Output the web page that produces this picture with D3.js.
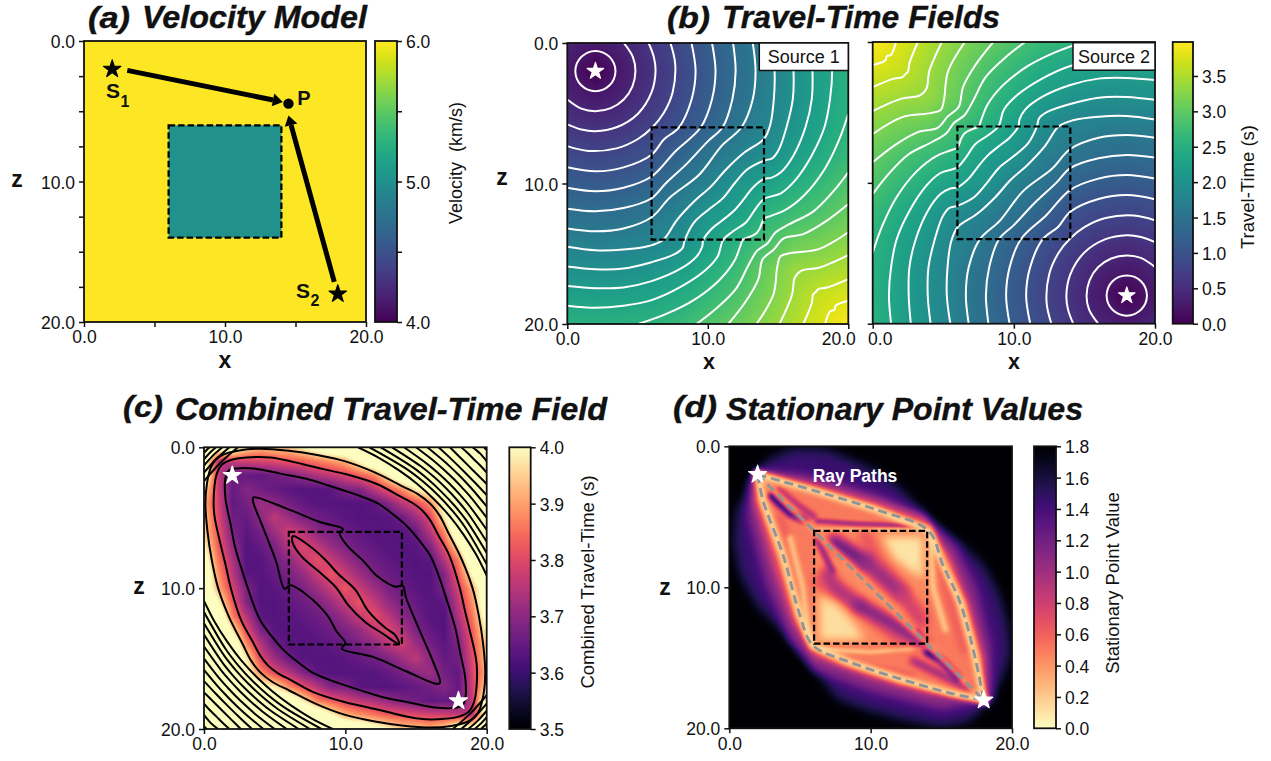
<!DOCTYPE html>
<html><head><meta charset="utf-8">
<script src="https://cdn.jsdelivr.net/npm/d3@7"></script>
<style>html,body{margin:0;padding:0;background:#fff}svg{display:block}text{font-family:"Liberation Sans",Arial,sans-serif;fill:#111}</style>
</head><body><svg id="c" width="1271" height="761"></svg>
<script>
// ---------- DATA ----------
const axisMajor=[0,10,20];
const source1=[2,2], source2=[18,18], pointP=[14.5,4.46];
const velocityOutside=6, velocityBox=5;
const ray1Arrow=[[3.07,2.09],[14.1,4.34]], ray2Arrow=[[17.75,17.15],[14.5,5.3]];
const travelTime1=[
[.40,.28,.40,.63,.89,1.16,1.43,1.71,1.98,2.26,2.54],
[.28,.00,.28,.56,.84,1.12,1.40,1.68,1.96,2.25,2.53],
[.40,.28,.40,.63,.89,1.16,1.43,1.71,1.98,2.26,2.54],
[.63,.56,.63,.79,1.01,1.26,1.56,1.78,2.05,2.31,2.58],
[.89,.84,.89,1.01,1.27,1.54,1.74,1.95,2.20,2.43,2.68],
[1.16,1.12,1.16,1.26,1.54,1.75,2.08,2.24,2.45,2.65,2.88],
[1.43,1.40,1.43,1.56,1.74,2.08,2.22,2.53,2.70,2.85,3.05],
[1.71,1.68,1.71,1.78,1.95,2.24,2.53,2.76,3.04,3.13,3.26],
[1.98,1.96,1.98,2.05,2.20,2.45,2.70,3.04,3.34,3.40,3.50],
[2.26,2.25,2.26,2.31,2.43,2.65,2.85,3.13,3.40,3.65,3.76],
[2.54,2.53,2.54,2.58,2.68,2.88,3.05,3.26,3.50,3.76,3.98]];
const travelTime2=[
[3.98,3.76,3.50,3.26,3.05,2.88,2.68,2.58,2.54,2.53,2.54],
[3.76,3.65,3.40,3.13,2.85,2.65,2.43,2.31,2.26,2.25,2.26],
[3.50,3.40,3.34,3.04,2.70,2.45,2.20,2.05,1.98,1.96,1.98],
[3.26,3.13,3.04,2.76,2.53,2.24,1.95,1.78,1.71,1.68,1.71],
[3.05,2.85,2.70,2.53,2.22,2.08,1.74,1.56,1.43,1.40,1.43],
[2.88,2.65,2.45,2.24,2.08,1.75,1.54,1.26,1.16,1.12,1.16],
[2.68,2.43,2.20,1.95,1.74,1.54,1.27,1.01,.89,.84,.89],
[2.58,2.31,2.05,1.78,1.56,1.26,1.01,.79,.63,.56,.63],
[2.54,2.26,1.98,1.71,1.43,1.16,.89,.63,.40,.28,.40],
[2.53,2.25,1.96,1.68,1.40,1.12,.84,.56,.28,.00,.28],
[2.54,2.26,1.98,1.71,1.43,1.16,.89,.63,.40,.28,.40]];
const timeContours=[
[[.99,.99],[.68,1.45],[.57,2],[.68,2.55],[.99,3.01],[1.45,3.32],[2,3.43],[2.55,3.32],[3.01,3.01]],
[[0,4.02],[1,4.67],[2,4.85],[3.1,4.63],[4.02,4.02]],
[[0,5.79],[1,6.16],[2,6.28],[3.5,6],[5.03,5.03]],
[[0,7.34],[1.5,7.68],[3.5,7.5],[5,6.85],[6.03,6.03]],
[[0,8.84],[2,9.13],[4,8.85],[6,7.95],[6.87,6.87]],
[[0,10.3],[2,10.55],[4,10.3],[6,9.5],[7.7,7.7]],
[[0,11.8],[2,11.98],[4,11.75],[6,11.05],[7,10],[8.55,8.55]],
[[0,13.2],[2,13.4],[4,13.2],[6,12.4],[7.3,11],[9.38,9.38]],
[[0,14.5],[2,14.75],[4,14.7],[5.8,14.45],[6.83,14],[7.8,12.6],[9,11.3],[10.22,10.22]],
[[0,15.9],[2,16.1],[4,16.05],[6,15.6],[7.6,15.05],[8.2,14.6],[8.37,14],[9,12.8],[10,11.9],[11.06,11.06]],
[[0,17.3],[2,17.45],[4,17.4],[6,16.95],[8,16.1],[9.2,15.2],[9.6,14.5],[9.68,14],[10.3,13.2],[11,12.65],[11.9,11.9]],
[[0,18.7],[2,18.85],[4,18.7],[6,18.3],[8,17.4],[9.8,16.2],[10.7,15.2],[11.1,14],[11.8,13.4],[12.74,12.74]],
[[5.05,20],[7,19.3],[9,18.3],[10.8,16.9],[11.9,15.5],[12.3,14.5],[12.5,14],[13.1,13.75],[13.5,13.5]],
[[9.2,20],[10.6,18.9],[12,17.5],[12.9,15.8],[13.5,14.8],[14.25,14.25]],
[[11.46,20],[12.7,18.4],[13.6,16.8],[13.9,15.4],[14.7,14.7]],
[[13.47,20],[14.67,17.9],[14.95,15.9],[15.18,15.18]],
[[15.1,20],[16,17.9],[16.15,16.8],[16.4,16.4]],
[[16.8,20],[17.4,18.5],[17.5,17.9],[17.7,17.7]],
[[18.35,20],[18.7,19.1],[19,19]]];
const combinedByOffset=[
[3.82,3.82,3.81,3.80,3.78,3.76,3.72,3.69,3.66,3.75,4.2],
[3.77,3.77,3.76,3.75,3.72,3.70,3.67,3.65,3.77,4.05],
[3.72,3.72,3.71,3.70,3.68,3.67,3.65,3.645,3.78,4.08],
[3.68,3.68,3.675,3.665,3.65,3.64,3.665,3.79,3.97],
[3.66,3.66,3.655,3.65,3.635,3.63,3.68,3.80,3.92],
[3.645,3.645,3.64,3.635,3.63,3.71,3.82,3.95],
[3.635,3.635,3.63,3.63,3.64,3.74,3.83,3.95],
[3.63,3.63,3.63,3.68,3.76,3.86,4.0],
[3.635,3.635,3.64,3.685,3.79,3.89,4.05],
[3.66,3.685,3.75,3.83,3.92,4.1],
[3.72,3.75,3.81,3.87,4.0,4.1],
[3.80,3.88,3.98,4.1,4.2],
[3.88,3.98,4.1,4.2,4.3],
[4.03,4.15,4.2,4.3],
[4.1,4.2,4.3,4.3],
[4.3,4.3,4.3],
[4.3,4.3,4.3],
[4.3,4.3],
[4.3,4.3],
[4.3],
[4.3]];
const lensContours=[
[[1.7,1.7],[2.3,1.5],[3.64,1.52],[5.4,1.87],[7.17,2.22],[8.8,2.71],[10,3.1],[11.13,3.49],[12.32,4],[13.39,4.77],[14.38,5.62]],
[[1.25,1.25],[1.9,.9],[3,.72],[4.7,.72],[7,1.2],[8.44,1.55],[10,1.9],[12.31,2.64],[13.75,3.42],[14.81,3.99],[15.48,4.52]],
[[.85,.85],[1.4,.5],[2.5,.22],[4,.1],[6,.25],[8,.55],[10,1],[12,1.75],[14,2.75],[15.13,3.32],[16,4]]];
const stripeContours=[
[[10.9,0],[12.4,.76],[13.8,1.64],[15.11,2.62],[16.29,3.71]],
[[11.7,0],[14.32,1.53],[15.5,2.43],[16.58,3.42]],
[[12.5,0],[14.81,1.44],[15.85,2.27],[16.82,3.18]],
[[13.3,0],[15.32,1.33],[16.24,2.08],[17.11,2.89]],
[[14.15,0],[15.85,1.23],[16.64,1.9],[17.39,2.61]],
[[15,0],[16.41,1.09],[17.07,1.68],[17.71,2.29]],
[[15.8,0],[16.95,.96],[17.5,1.46],[18.03,1.97]],
[[16.6,0],[17.48,.82],[18.34,1.66]],
[[17.4,0],[18.05,.65],[18.7,1.3]],
[[18.2,0],[18.67,.42],[19.12,.88]],
[[19,0],[19.28,.22],[19.55,.45]],
[[19.8,0],[19.85,.04],[19.9,.1]]];
const cornerStripes=[[.4,.19],[.85,.4],[1.3,.61],[1.8,.85],[2.4,1.13]];
const innerRidge=[[3.5,3.55],[5.85,4.35],[8.2,5.3],[9.85,5.8],[9.6,6.1],[10.1,6.95],[11.3,8.1],[12.2,9.1],[13.6,9.9],[14.05,9.8],[14.3,10.7],[15.3,13.1],[16.2,15.2],[16.7,16.7],[16.5,16.8],[14.3,15.9],[12,14.9],[9.75,14.3],[10,13.9],[9.4,13.1],[8.7,11.9],[7.3,10.5],[6.1,9.8],[5.7,10.05],[5.1,8.1],[4.2,5.75],[3.45,3.75]];
const innerCore=[[6.3,6.3],[7.4,6.95],[8.6,8],[9.5,9],[10.7,10.1],[11.6,11.6],[12.8,12.8],[13.5,13.3],[13.8,13.95],[12.6,13.2],[11.4,12.4],[10.2,11.2],[9.3,9.9],[8.1,8.8],[6.9,7.75],[6.25,6.7]];
const rayUpper=[[2,2],[6.2,3.2],[10.4,4.5],[14.1,6],[15.1,8.4],[16.3,11],[17.3,14.6],[18,18]];
const rayLower=[[2,2],[2.4,3.9],[3.8,7.7],[5,12],[5.9,14.1],[8.5,15.3],[12.1,16.5],[15.6,17.5],[18,18]];
const rayDirect=[[2,2],[18,18]];
const valueBands=[
{v:1.45,blur:6,poly:[[4.5,.15],[6.9,.25],[9.5,1.3],[11.6,2.5],[13.3,4.2],[14.4,5.6],[16.3,6.8],[18,8.4],[19.1,10.5],[19.7,12.7],[19.9,14.6],[19.4,16.2],[18.2,18.3],[17,19.5],[15.1,19.95],[12.8,19.5],[10,18.8],[7.6,17.9],[6.4,16.2],[5.5,14.6],[3.8,13.1],[1.9,11.25],[.75,9.1],[.3,6.8],[.5,4.6],[1.5,2.7],[2.6,1]]},
{v:1.1,blur:4,poly:[[2,1.7],[5,1.9],[8,2.6],[11,3.6],[13.8,4.9],[16,7],[17.5,10],[18.5,14],[18.6,18],[15,18.7],[10,17.4],[6,15.9],[4.3,13.8],[2.5,9.6],[1.3,5],[1.5,2.5]]},
{v:.75,blur:3,poly:[[2,1.8],[6,2.6],[10,3.7],[13.8,5],[15.8,8],[17,11],[18.1,15],[18.2,18],[14,17.6],[10,16.5],[6,15],[4.4,12.5],[3,8.5],[1.7,4],[1.7,2.4]]},
{v:.42,blur:2,poly:[[2,1.9],[6,3],[10,4.2],[14.2,5.6],[15.6,8.4],[16.8,11.2],[17.8,15],[18,18],[12,16.8],[8,15.5],[5.7,14.4],[4.6,12],[3.4,8],[2,3.8]]},
{v:.5,blur:2,poly:[[2,2],[6.2,3.2],[10.4,4.5],[14.1,6],[15.1,8.4],[16.3,11],[17.3,14.6],[18,18],[15.6,17.5],[12.1,16.5],[8.5,15.3],[5.9,14.1],[5,12],[3.8,7.7],[2.4,3.9]]},
{v:.45,blur:1,poly:[[6,6],[14,6],[14,14],[6,14]]}];
const valueStreaks=[
{v:1.6,w:7,blur:2,line:[[3,3.5],[4.2,4.7],[5.3,5.2]]},
{v:.95,w:6,blur:2,line:[[3.5,3.1],[5,4.3],[6,5]]},
{v:1.05,w:4,blur:1.5,line:[[6.2,5.3],[9,5.5],[12,5.6],[14,5.9]]},
{v:.25,w:3,blur:1,line:[[6,5.9],[14,5.9]]},
{v:.62,w:8,blur:3,line:[[3.6,5],[4.6,8],[5.3,11]]},
{v:.2,w:6,blur:2,line:[[4.3,6.5],[5.2,10],[5.6,13.5]]},
{v:.2,w:6,blur:2,line:[[14.3,6.5],[14.4,10],[15.3,13]]},
{v:.62,w:8,blur:3,line:[[14.9,8],[15.6,11],[16.6,14.5]]},
{v:.6,w:6,blur:2,line:[[7,14.8],[10,15.6],[13,16.2]]},
{v:.22,w:4,blur:1.5,line:[[6.5,14.4],[10,14.6],[13.5,14.3]]},
{v:1.15,w:6,blur:3,line:[[13,15.2],[15,16.2],[17,17.2]]},
{v:1.6,w:7,blur:2,line:[[14,14.6],[15,15.2],[16.2,16.4]]},
{v:.65,w:14,blur:4,line:[[9.6,6.4],[10.4,8],[12,10],[13.6,12]]},
{v:.65,w:14,blur:4,line:[[6.3,9.6],[8,10.4],[10,12],[12,13.7]]},
{v:1.25,w:14,blur:4,line:[[7.4,6.8],[8.3,7.35],[9.6,8.2]]},
{v:1.05,w:14,blur:5,line:[[9.6,8.2],[12.1,10.4]]},
{v:.8,w:10,blur:4,line:[[12.1,10.4],[13.7,12.6]]},
{v:.95,w:12,blur:4,line:[[6.9,9],[7.6,10.1],[9.2,11.3]]},
{v:1.15,w:12,blur:4,line:[[9.2,11.3],[11.4,12.5],[13.6,13.9]]},
{v:1.15,w:5,blur:2,line:[[6.2,6.6],[6.7,7.6],[7.3,8.9]]},
{v:1.3,w:4,blur:1.5,line:[[13.3,13.1],[13.9,14]]}];
const palePatches=[
{v:.1,blur:4,poly:[[10.8,6.4],[13.7,6.4],[13.7,9.4],[12.6,8.7],[11.6,7.9]]},
{v:.12,blur:4,poly:[[6.4,10.6],[7.6,11.2],[8.7,12.4],[9.6,13.7],[6.4,13.7]]}];
const rayRidges=[
{v:.42,w:6,blur:2,line:rayDirect},
{v:.15,w:7,blur:2,line:rayUpper},
{v:.15,w:7,blur:2,line:rayLower}];
const cbarA=[4,4.5,5,5.5,6], cbarB=[0,.5,1,1.5,2,2.5,3,3.5], cbarC=[3.5,3.6,3.7,3.8,3.9,4], cbarD=[0,.2,.4,.6,.8,1,1.2,1.4,1.6,1.8];

// ---------- LAYOUT ----------
const svg=d3.select('#c');
const defs=svg.append('defs');
const fmt=d3.format('.1f');
let uid=0;
const lerp=(a,b,t)=>a+(b-a)*t;
function panel(x0,x1,y0,y1,opt){
  const g=svg.append('g');
  const x=d3.scaleLinear([0,20],[x0,x1]), y=d3.scaleLinear([0,20],[y0,y1]);
  const id='clip'+(uid++);
  defs.append('clipPath').attr('id',id).append('rect').attr('x',x0).attr('y',y0).attr('width',x1-x0).attr('height',y1-y0);
  const plot=g.append('g').attr('clip-path',`url(#${id})`);
  return {g,x,y,plot,opt:opt||{},x0,x1,y0,y1};
}
function finish(p){
  const {g,x,y,opt}=p;
  const over=g.append('g');
  over.append('rect').attr('x',x(6)).attr('y',y(6)).attr('width',x(14)-x(6)).attr('height',y(14)-y(6))
    .attr('fill','none').attr('stroke','#000').attr('stroke-width',2.2).attr('stroke-dasharray','6.5 3');
  const xt=opt.xt||axisMajor, yt=opt.yt||axisMajor;
  const ax=d3.axisBottom(x).tickValues(xt).tickSize(5).tickPadding(4).tickFormat(d=>axisMajor.includes(d)?fmt(d):'');
  const ay=d3.axisLeft(y).tickValues(yt).tickSize(5).tickPadding(4).tickFormat(d=>axisMajor.includes(d)&&!opt.noYLabels?fmt(d):'');
  const gx=g.append('g').attr('transform',`translate(0,${p.y1})`).call(ax);
  const gy=g.append('g').attr('transform',`translate(${p.x0},0)`).call(ay);
  [gx,gy].forEach(s=>{s.select('.domain').remove();s.selectAll('line').attr('stroke','#111').attr('stroke-width',1.5);s.selectAll('text').attr('font-size',17.5).attr('fill','#111');});
  gy.selectAll('text').attr('y',1);
  if(opt.xShift) gx.selectAll('text').attr('dx',d=>opt.xShift[d]||0);
  g.append('rect').attr('x',p.x0).attr('y',p.y0).attr('width',p.x1-p.x0).attr('height',p.y1-p.y0).attr('fill','none').attr('stroke','#111').attr('stroke-width',1.8);
}
function label(t,x,y,size,weight,anchor,rot,style){
  const s=svg.append('text').attr('x',x).attr('y',y).attr('font-size',size).attr('font-weight',weight||'normal').attr('text-anchor',anchor||'middle').text(t);
  if(rot)s.attr('transform',`rotate(${rot} ${x} ${y})`);
  if(style)s.attr('font-style',style);
  return s;
}
function title(tag,tx,ty,tw,name,nx,ny,nw,fs){
  label(tag,tx,ty,fs-1,'bold','start',0,'italic').attr('textLength',tw).attr('lengthAdjust','spacingAndGlyphs').attr('stroke','#111').attr('stroke-width',.4);
  label(name,nx,ny,fs,'bold','start',0,'italic').attr('textLength',nw).attr('lengthAdjust','spacingAndGlyphs').attr('stroke','#111').attr('stroke-width',.4);
}
function heat(p,w,h,valueAt,color){
  const c=document.createElement('canvas');c.width=w;c.height=h;
  const ctx=c.getContext('2d');const im=ctx.createImageData(w,h);
  const xi=d3.scaleLinear([0,w],[0,20]), yi=d3.scaleLinear([0,h],[0,20]);
  for(let j=0;j<h;j++)for(let i=0;i<w;i++){
    const col=d3.rgb(color(valueAt(xi(i+.5),yi(j+.5))));
    const k=(j*w+i)*4;im.data[k]=col.r;im.data[k+1]=col.g;im.data[k+2]=col.b;im.data[k+3]=255;
  }
  ctx.putImageData(im,0,0);
  p.plot.append('image').attr('x',p.x0).attr('y',p.y0).attr('width',p.x1-p.x0).attr('height',p.y1-p.y0)
    .attr('preserveAspectRatio','none').attr('href',c.toDataURL());
}
function sampler(grid,step){
  return (x,z)=>{
    const n=grid.length-1;
    const gx=Math.min(x/step,n-1e-6), gz=Math.min(z/step,n-1e-6);
    const i=Math.floor(gx), j=Math.floor(gz), a=gx-i, b=gz-j;
    return lerp(lerp(grid[j][i],grid[j][i+1],a),lerp(grid[j+1][i],grid[j+1][i+1],a),b);
  };
}
function colorbar(x0,x1,y0,y1,scale,ticks,labelled,fmtFn){
  const id='cb'+(uid++);
  const lg=defs.append('linearGradient').attr('id',id).attr('x1',0).attr('x2',0).attr('y1',1).attr('y2',0);
  const [d0,d1]=scale.domain();
  d3.range(0,61).forEach(i=>{const t=i/60;lg.append('stop').attr('offset',t).attr('stop-color',scale(d0+(d1-d0)*t));});
  svg.append('rect').attr('x',x0).attr('y',y0).attr('width',x1-x0).attr('height',y1-y0).attr('fill',`url(#${id})`);
  const py=d3.scaleLinear([d0,d1],[y1,y0]);
  const a=d3.axisRight(py).tickValues(ticks).tickSize(5).tickPadding(4).tickFormat(d=>labelled.includes(d)?fmtFn(d):'');
  const g=svg.append('g').attr('transform',`translate(${x1},0)`).call(a);
  g.select('.domain').remove();g.selectAll('line').attr('stroke','#111').attr('stroke-width',1.5);g.selectAll('text').attr('font-size',17.5).attr('fill','#111').attr('y',1);
  svg.append('rect').attr('x',x0).attr('y',y0).attr('width',x1-x0).attr('height',y1-y0).attr('fill','none').attr('stroke','#111').attr('stroke-width',1.8);
}
const star=d3.symbol(d3.symbolStar);
function drawStar(p,pt,fill,size){
  p.g.append('path').attr('d',star.size(size)()).attr('transform',`translate(${p.x(pt[0])},${p.y(pt[1])})`).attr('fill',fill).attr('stroke',fill).attr('stroke-width',1.2).attr('stroke-linejoin','round');
}
const swap=d=>[d[1],d[0]], anti=d=>[20-d[1],20-d[0]], rot=d=>[20-d[0],20-d[1]];

// ---------- (a) ----------
const viridis=d3.scaleSequential([4,6],d3.interpolateViridis);
const pa=panel(84,366,41,322,{xt:[0,5,10,15,20],yt:d3.range(0,20.1,2.5)});
pa.plot.append('rect').attr('x',pa.x0).attr('y',pa.y0).attr('width',282).attr('height',281).attr('fill',viridis(velocityOutside));
pa.plot.append('rect').attr('x',pa.x(6)).attr('y',pa.y(6)).attr('width',pa.x(14)-pa.x(6)).attr('height',pa.y(14)-pa.y(6)).attr('fill',viridis(velocityBox));
function arrow(p,seg){
  const [a,b]=seg.map(d=>[p.x(d[0]),p.y(d[1])]);
  const ang=Math.atan2(b[1]-a[1],b[0]-a[0]),L=10,W=6.5;
  const base=[b[0]-L*Math.cos(ang),b[1]-L*Math.sin(ang)];
  p.g.append('line').attr('x1',a[0]).attr('y1',a[1]).attr('x2',base[0]).attr('y2',base[1]).attr('stroke','#000').attr('stroke-width',5);
  p.g.append('path').attr('fill','#000').attr('d',d3.line()([b,[base[0]-W*Math.sin(ang),base[1]+W*Math.cos(ang)],[base[0]+W*Math.sin(ang),base[1]-W*Math.cos(ang)]])+'Z');
}
finish(pa);
arrow(pa,ray1Arrow);arrow(pa,ray2Arrow);
drawStar(pa,source1,'#000',95);drawStar(pa,source2,'#000',95);
pa.g.append('circle').attr('cx',pa.x(pointP[0])).attr('cy',pa.y(pointP[1])).attr('r',5.2).attr('fill','#000');
label('S',113,98,21,'bold');label('1',125,107,16,'bold');
label('P',304,105,20,'bold');
label('S',303,298,21,'bold');label('2',315,306,16,'bold');
colorbar(375,397,41,322,viridis,cbarA,[4,5,6],fmt);
label('Velocity  (km/s)',462,163,18,'normal','middle',-90).style('white-space','pre');
label('x',225,368,23,'bold');label('z',17,187,23,'bold');
title('(a)',88,27.5,42,'Velocity Model',142,28,225,31);

// ---------- (b) ----------
const timeColor=d3.scaleSequential([0,3.98],d3.interpolateViridis);
const timeLine=d3.line().curve(d3.curveCatmullRom.alpha(.5));
function bPanel(x0,x1,y0,y1,grid,map,tag,src,xShift){
  const p=panel(x0,x1,y0,y1,{noYLabels:tag==='Source 2',xShift});
  heat(p,283,283,sampler(grid,2),timeColor);
  const gen=timeLine.x(d=>p.x(d[0])).y(d=>p.y(d[1]));
  p.plot.selectAll('.ct').data(timeContours).join('path').attr('fill','none').attr('stroke','#fff').attr('stroke-width',2)
    .attr('d',h=>gen([...h,...h.slice(0,-1).reverse().map(swap)].map(map)));
  finish(p);
  drawStar(p,src,'#fff',85);
  return p;
}
const pb1=bPanel(567.3,848.3,43,324,travelTime1,d=>d,'Source 1',source1,{20:-10});
const pb2=bPanel(872.7,1155,42,323.7,travelTime2,rot,'Source 2',source2,{0:7});
[[pb1,759.3,43,89,'Source 1'],[pb2,1073,42.7,82,'Source 2']].forEach(([p,x,y,w,t])=>{
  p.g.append('rect').attr('x',x).attr('y',y).attr('width',w).attr('height',27.5).attr('fill','#fff').attr('stroke','#111').attr('stroke-width',1.5);
  label(t,x+w/2,y+20,18);
});
colorbar(1172.7,1193,42,323.7,timeColor,cbarB,cbarB,fmt);
label('Travel-Time (s)',1254,187,18.5,'normal','middle',-90);
label('x',709,368.5,21.5,'bold');label('x',1014,368.5,21.5,'bold');label('z',502,185,23,'bold');
title('(b)',667,27.5,43,'Travel-Time Fields',722,28,278,31);

// ---------- (c) ----------
const combinedColor=d3.scaleSequential([3.5,4],d3.interpolateMagma).clamp(true);
const combinedGrid=d3.range(21).map(z=>d3.range(21).map(x=>{
  const k=Math.abs(x-z), j=Math.abs(x+z-20);
  return combinedByOffset[k][(j-(k%2))/2];
}));
const pc=panel(204,486.7,447.3,729,{});
heat(pc,283,282,sampler(combinedGrid,1),combinedColor);
const blackGen=d3.line().x(d=>pc.x(d[0])).y(d=>pc.y(d[1]));
const blk=(pts,closed)=>pc.plot.append('path').attr('fill','none').attr('stroke','#000').attr('stroke-width',2)
  .attr('d',blackGen.curve(closed?d3.curveCatmullRomClosed.alpha(.5):d3.curveCatmullRom.alpha(.5))(pts));
lensContours.forEach(h=>{
  const upper=[...h,...h.slice(0,-1).reverse().map(anti)];
  blk([...upper,...upper.slice(1,-1).reverse().map(swap)],true);
});
stripeContours.forEach(h=>{
  const line=[...h,...h.slice(0,-1).reverse().map(anti)];
  blk(line);blk(line.map(swap));
});
cornerStripes.forEach(([t,m])=>{
  const l=[[t,0],[m,m],[0,t]];
  blk(l);blk(l.map(rot));
});
blk(innerRidge,true);blk(innerCore,true);
finish(pc);
drawStar(pc,source1,'#fff',100);drawStar(pc,source2,'#fff',100);
colorbar(509.3,530.7,447.3,729,d3.scaleSequential([3.5,4],d3.interpolateMagma),cbarC,cbarC,fmt);
label('Combined Travel-Time (s)',594,582,18.5,'normal','middle',-90);
label('z',139,594,23,'bold');
title('(c)',123,417,40,'Combined Travel-Time Field',175,420,432,31);

// ---------- (d) ----------
const valueColor=d3.scaleSequential([0,1.8],t=>d3.interpolateMagma(1-t));
const pd=panel(729.3,1012,446.3,728.3,{});
(function(){
  const W=283,H=282,sx=d3.scaleLinear([0,20],[0,W]),sy=d3.scaleLinear([0,20],[0,H]);
  const cv=document.createElement('canvas');cv.width=W;cv.height=H;
  const ctx=cv.getContext('2d',{willReadFrequently:true});
  const gray=d3.scaleLinear([0,1.8],[0,255]);
  ctx.fillStyle='#fff';ctx.fillRect(0,0,W,H);
  const shade=v=>{const g=Math.round(gray(v));return `rgb(${g},${g},${g})`;};
  const trace=d3.line().x(d=>sx(d[0])).y(d=>sy(d[1])).context(ctx);
  const fillP=o=>{ctx.filter=`blur(${o.blur}px)`;ctx.fillStyle=shade(o.v);ctx.beginPath();trace(o.poly);ctx.closePath();ctx.fill();};
  const strokeL=o=>{ctx.filter=`blur(${o.blur}px)`;ctx.strokeStyle=shade(o.v);ctx.lineWidth=o.w;ctx.lineCap='round';ctx.lineJoin='round';ctx.beginPath();trace(o.line);ctx.stroke();};
  valueBands.forEach(fillP);valueStreaks.forEach(strokeL);palePatches.forEach(fillP);rayRidges.forEach(strokeL);
  ctx.filter='none';
  const im=ctx.getImageData(0,0,W,H);
  for(let i=0;i<im.data.length;i+=4){
    const col=d3.rgb(valueColor(gray.invert(im.data[i])));
    im.data[i]=col.r;im.data[i+1]=col.g;im.data[i+2]=col.b;im.data[i+3]=255;
  }
  ctx.putImageData(im,0,0);
  pd.plot.append('image').attr('x',pd.x0).attr('y',pd.y0).attr('width',pd.x1-pd.x0).attr('height',pd.y1-pd.y0).attr('preserveAspectRatio','none').attr('href',cv.toDataURL());
})();
const rayGen=d3.line().curve(d3.curveCatmullRom.alpha(.5)).x(d=>pd.x(d[0])).y(d=>pd.y(d[1]));
[rayUpper,rayLower,rayDirect].forEach(r=>pd.plot.append('path').attr('d',rayGen(r)).attr('fill','none').attr('stroke','#8f9499').attr('stroke-width',2.8).attr('stroke-dasharray','9 5'));
finish(pd);
drawStar(pd,source1,'#fff',100);drawStar(pd,source2,'#fff',100);
label('Ray Paths',855,481.7,17.5,'bold').style('fill','#fff');
colorbar(1034,1056,446.3,728.3,valueColor,cbarD,cbarD,fmt);
label('Stationary Point Value',1119,583,18.5,'normal','middle',-90);
label('z',665,595,23,'bold');
title('(d)',673,417,44,'Stationary Point Values',726,420,357,31);
</script></body></html>
